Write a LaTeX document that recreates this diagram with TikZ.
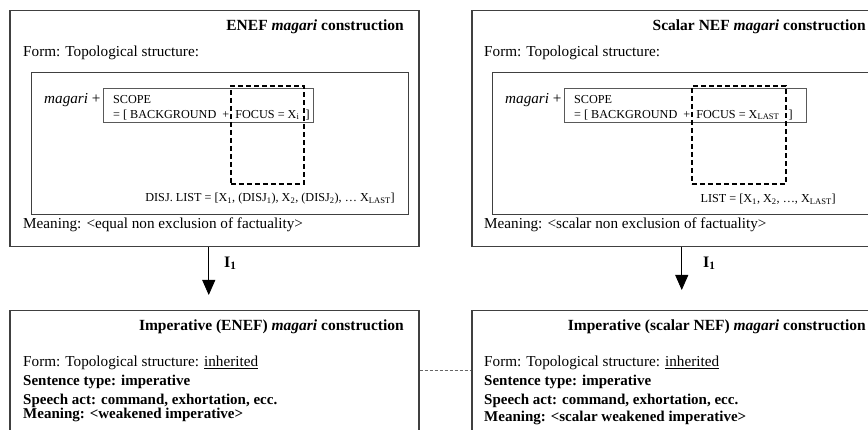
\documentclass[tikz,border=0pt]{standalone}
\usepackage{fontspec}
\setmainfont{Liberation Serif}
\usepackage{tikz}
\usetikzlibrary{arrows.meta}
\usetikzlibrary{positioning}
\tikzstyle{outerblock} = [rectangle, anchor=north west, draw=black!75, line width=1.5pt, inner sep=0pt]
\tikzstyle{innerblock} = [rectangle, anchor=north west, draw=black!75, line width=1.2pt, inner sep=0pt]
\tikzstyle{scopeblock} = [rectangle, anchor=north west, draw=black!65, line width=0.9pt, inner sep=0pt]
\tikzstyle{focusblock} = [rectangle, anchor=north west, draw=black, line width=1.6pt, dash pattern=on 5pt off 3pt, inner sep=0pt]
\tikzstyle{titletext} = [anchor=east, inner sep=0pt, font=\fontsize{15.5}{18}\selectfont\bfseries]
\tikzstyle{bodytext} = [anchor=west, inner sep=0pt, font=\fontsize{15.2}{18}\selectfont]
\tikzstyle{boldtext} = [anchor=west, inner sep=0pt, font=\fontsize{15}{18}\selectfont\bfseries]
\tikzstyle{smalltext} = [anchor=west, inner sep=0pt, align=left, font=\fontsize{12.2}{15}\selectfont]
\tikzstyle{arrow} = [line width=0.8pt, -{Triangle[width=13pt,length=15pt]}]
\tikzstyle{link} = [draw=black!60, line width=0.6pt, dash pattern=on 3pt off 2pt]

\begin{document}
\begin{tikzpicture}[x=1pt, y=-1pt]
  \useasboundingbox (0,0) rectangle (868,430);
  \clip (0,0) rectangle (868,430);
  % upper boxes
  \node (enef) [outerblock, minimum width=409pt, minimum height=236pt] at (9,10) {};
  \node (nef) [outerblock, minimum width=420pt, minimum height=236pt] at (471,10) {};
  \node (enefin) [innerblock, minimum width=377pt, minimum height=142pt] at (31,72) {};
  \node (nefin) [innerblock, minimum width=420pt, minimum height=142pt] at (492,72) {};
  \node (enefscope) [scopeblock, minimum width=210pt, minimum height=34pt] at (103,88) {};
  \node (nefscope) [scopeblock, minimum width=242pt, minimum height=34pt] at (564,88) {};
  \node (eneffocus) [focusblock, minimum width=73pt, minimum height=98pt] at (230,85) {};
  \node (neffocus) [focusblock, minimum width=94pt, minimum height=98pt] at (691,85) {};
  % lower boxes
  \node (impenef) [outerblock, minimum width=409pt, minimum height=140pt] at (9,310) {};
  \node (impnef) [outerblock, minimum width=420pt, minimum height=140pt] at (471,310) {};

  % texts, left
  \node (t1) [titletext] at (404,27) {ENEF \textit{magari} construction};
  \node (f1) [bodytext] at (23,53) {Form: Topological structure:};
  \node (m1) [bodytext] at (44,100) {\textit{magari} +};
  \node (s1) [smalltext] at (113,107.5) {SCOPE\\= [ BACKGROUND \ + \ FOCUS = X\textsubscript{i} \ ]};
  \node (l1) [smalltext, anchor=east] at (395,199) {DISJ. LIST = [X\textsubscript{1}, (DISJ\textsubscript{1}), X\textsubscript{2}, (DISJ\textsubscript{2}), \dots\ X\textsubscript{LAST}]};
  \node (mn1) [bodytext] at (23,225) {Meaning: <equal non exclusion of factuality>};
  % texts, right
  \node (t2) [titletext] at (866,27) {Scalar NEF \textit{magari} construction};
  \node (f2) [bodytext] at (484,53) {Form: Topological structure:};
  \node (m2) [bodytext] at (505,100) {\textit{magari} +};
  \node (s2) [smalltext] at (574,107.5) {SCOPE\\= [ BACKGROUND \ + \ FOCUS = X\textsubscript{LAST} \ \ ]};
  \node (l2) [smalltext, anchor=east] at (836,199) {LIST = [X\textsubscript{1}, X\textsubscript{2}, \dots, X\textsubscript{LAST}]};
  \node (mn2) [bodytext] at (484,225) {Meaning: <scalar non exclusion of factuality>};

  % texts, lower left
  \node (t3) [titletext] at (404,327) {Imperative (ENEF) \textit{magari} construction};
  \node (f3) [bodytext] at (23,363) {Form: Topological structure: \underline{inherited}};
  \node (st3) [boldtext] at (23,382) {Sentence type: imperative};
  \node (sa3) [boldtext] at (23,401) {Speech act: command, exhortation, ecc.};
  \node (mn3) [boldtext] at (23,415) {Meaning: <weakened imperative>};
  % texts, lower right
  \node (t4) [titletext] at (866,327) {Imperative (scalar NEF) \textit{magari} construction};
  \node (f4) [bodytext] at (484,363) {Form: Topological structure: \underline{inherited}};
  \node (st4) [boldtext] at (484,382) {Sentence type: imperative};
  \node (sa4) [boldtext] at (484,401) {Speech act: command, exhortation, ecc.};
  \node (mn4) [boldtext] at (484,418) {Meaning: <scalar weakened imperative>};

  % connectors
  \draw [arrow, shorten >=15pt] ([xshift=-5.5pt]enef.south) -- node[pos=0.25, right=15pt, inner sep=0pt, font=\fontsize{16}{18}\selectfont\bfseries] {I\textsubscript{1}} ([xshift=-5.5pt]impenef.north);
  \draw [arrow, shorten >=20pt] (nef.south) -- node[pos=0.25, right=21pt, inner sep=0pt, font=\fontsize{16}{18}\selectfont\bfseries] {I\textsubscript{1}} (impnef.north);
  \draw [link] (impenef.east |- 0,370) -- (impnef.west |- 0,370);
\end{tikzpicture}
\end{document}
